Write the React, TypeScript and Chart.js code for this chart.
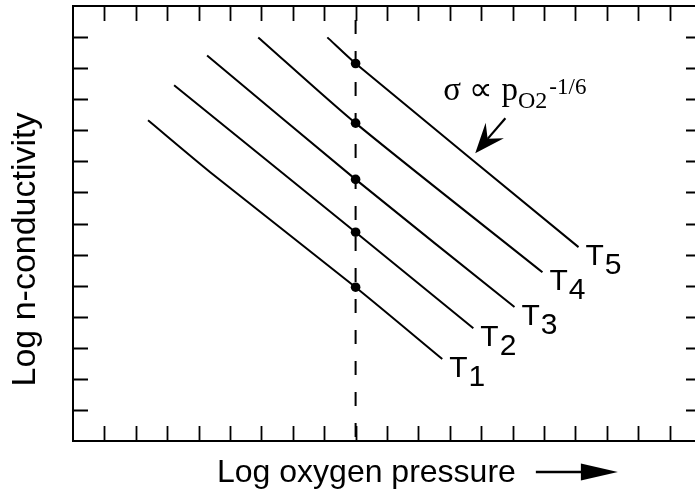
import React, { useEffect, useRef } from "react";
import { Chart, registerables } from "chart.js";

Chart.register(...registerables);

// ---- data (axis units: x = log pO2 tick units, y = log sigma tick units) ----
const xMin = 0;
const xMax = 20;
const yMin = 0;
const yMax = 14;
const referenceX = 9;

const T1 = [
  { x: 2.39, y: 10.32 },
  { x: 4.37, y: 8.65 },
  { x: 9, y: 4.95 },
  { x: 11.76, y: 2.64 },
];
const T2 = [
  { x: 3.22, y: 11.45 },
  { x: 9, y: 6.72 },
  { x: 12.75, y: 3.63 },
];
const T3 = [
  { x: 4.27, y: 12.41 },
  { x: 9, y: 8.42 },
  { x: 14.06, y: 4.31 },
];
const T4 = [
  { x: 5.9, y: 12.99 },
  { x: 9, y: 10.23 },
  { x: 14.95, y: 5.43 },
];
const T5 = [
  { x: 8.1, y: 12.99 },
  { x: 9, y: 12.15 },
  { x: 16.1, y: 6.24 },
];
const curves = [T1, T2, T3, T4, T5];
const curveSubscripts = ["1", "2", "3", "4", "5"];

const referenceLine = [
  { x: referenceX, y: yMin },
  { x: referenceX, y: yMax },
];

const xAxisTitle = "Log oxygen pressure";
const yAxisTitle = "Log n-conductivity";

// annotation "σ ∝ pO2^-1/6" anchor and arrow (data units)
const annotationAnchor = { x: 11.79, y: 10.97 };
const annotationArrowTail = { x: 13.77, y: 10.39 };
const annotationArrowTip = { x: 12.81, y: 9.26 };

const SANS = "'Liberation Sans', Arial, Helvetica, sans-serif";
const SERIF = "'Liberation Serif', 'Times New Roman', serif";

const decorPlugin = {
  id: "decor",
  afterDraw(chart: any) {
    const ctx = chart.ctx as CanvasRenderingContext2D;
    const ca = chart.chartArea;
    const xs = chart.scales.x;
    const ys = chart.scales.y;
    ctx.save();
    ctx.strokeStyle = "#000";
    ctx.fillStyle = "#000";
    ctx.lineCap = "butt";

    // inward tick marks on all four sides
    const tickLen = 15;
    ctx.lineWidth = 1.8;
    ctx.beginPath();
    xs.ticks.forEach((t: any) => {
      if (t.value <= xMin || t.value >= xMax) return;
      const px = Math.round(xs.getPixelForValue(t.value)) + 0.5;
      ctx.moveTo(px, ca.bottom);
      ctx.lineTo(px, ca.bottom - tickLen);
      ctx.moveTo(px, ca.top);
      ctx.lineTo(px, ca.top + tickLen);
    });
    ys.ticks.forEach((t: any) => {
      if (t.value <= yMin || t.value >= yMax) return;
      const py = Math.round(ys.getPixelForValue(t.value)) + 0.5;
      ctx.moveTo(ca.left, py);
      ctx.lineTo(ca.left + tickLen, py);
      ctx.moveTo(ca.right, py);
      ctx.lineTo(ca.right - tickLen, py);
    });
    ctx.stroke();

    // curve labels T1..T5 at the end of each curve
    ctx.textBaseline = "alphabetic";
    ctx.textAlign = "left";
    curves.forEach((c, i) => {
      const last = c[c.length - 1];
      const px = xs.getPixelForValue(last.x) + 7;
      const py = ys.getPixelForValue(last.y) + 18;
      ctx.font = `30px ${SANS}`;
      ctx.fillText("T", px, py);
      const w = ctx.measureText("T").width;
      ctx.fillText(curveSubscripts[i], px + w + 1, py + 9);
    });

    // annotation text
    let ax = xs.getPixelForValue(annotationAnchor.x);
    const ay = ys.getPixelForValue(annotationAnchor.y);
    ctx.font = `33px ${SERIF}`;
    ctx.fillText("σ ∝ p", ax, ay);
    ax += ctx.measureText("σ ∝ p").width;
    ctx.font = `24px ${SERIF}`;
    ctx.fillText("O2", ax, ay + 8);
    ax += ctx.measureText("O2").width + 2;
    ctx.font = `23px ${SERIF}`;
    ctx.fillText("-1/6", ax, ay - 6);

    // annotation arrow
    const tx = xs.getPixelForValue(annotationArrowTail.x);
    const ty = ys.getPixelForValue(annotationArrowTail.y);
    const hx = xs.getPixelForValue(annotationArrowTip.x);
    const hy = ys.getPixelForValue(annotationArrowTip.y);
    const len = Math.hypot(hx - tx, hy - ty);
    const ux = (hx - tx) / len;
    const uy = (hy - ty) / len;
    const nx = -uy;
    const ny = ux;
    const headLen = 30;
    const headHalf = 12;
    const notch = 19;
    ctx.lineWidth = 2.2;
    ctx.beginPath();
    ctx.moveTo(tx, ty);
    ctx.lineTo(hx - ux * notch, hy - uy * notch);
    ctx.stroke();
    ctx.beginPath();
    ctx.moveTo(hx, hy);
    ctx.lineTo(hx - ux * headLen + nx * headHalf, hy - uy * headLen + ny * headHalf);
    ctx.lineTo(hx - ux * notch, hy - uy * notch);
    ctx.lineTo(hx - ux * headLen - nx * headHalf, hy - uy * headLen - ny * headHalf);
    ctx.closePath();
    ctx.fill();

    // x axis title with arrow
    ctx.font = `32px ${SANS}`;
    ctx.textAlign = "left";
    const titleLeft = ca.left + 144;
    const titleBase = ca.bottom + 41;
    ctx.fillText(xAxisTitle, titleLeft, titleBase);
    const tw = ctx.measureText(xAxisTitle).width;
    const arrowY = titleBase - 10;
    const a0 = titleLeft + tw + 20;
    const aTip = a0 + 82;
    ctx.lineWidth = 2.5;
    ctx.beginPath();
    ctx.moveTo(a0, arrowY);
    ctx.lineTo(aTip - 34, arrowY);
    ctx.stroke();
    ctx.beginPath();
    ctx.moveTo(aTip, arrowY);
    ctx.lineTo(aTip - 37, arrowY - 8.5);
    ctx.lineTo(aTip - 37, arrowY + 8.5);
    ctx.closePath();
    ctx.fill();

    // y axis title
    ctx.save();
    ctx.translate(ca.left - 38, (ca.top + ca.bottom) / 2 + 26);
    ctx.rotate(-Math.PI / 2);
    ctx.textAlign = "center";
    ctx.font = `34px ${SANS}`;
    ctx.fillText(yAxisTitle, 0, 0);
    ctx.restore();

    ctx.restore();
  },
};

const hiddenAxis = (position: string, min: number, max: number, axis: string) => ({
  type: "linear" as const,
  position,
  axis,
  min,
  max,
  ticks: { display: false, stepSize: 1, autoSkip: false },
  grid: { display: true, drawOnChartArea: false, drawTicks: false },
  border: { display: true, color: "#000", width: 2 },
  title: { display: false },
});

export default function App() {
  const canvasRef = useRef<HTMLCanvasElement | null>(null);

  useEffect(() => {
    if (!canvasRef.current) return;
    const curveSets = curves.map((c) => ({
      data: c,
      showLine: true,
      borderColor: "#000",
      backgroundColor: "#000",
      borderWidth: 2,
      tension: 0.25,
      pointRadius: (ctx: any) => (ctx.raw && ctx.raw.x === referenceX ? 4.8 : 0),
      pointHoverRadius: 0,
      pointBorderWidth: 0,
    }));
    const chart = new Chart(canvasRef.current, {
      type: "scatter",
      data: {
        datasets: [
          {
            data: referenceLine,
            showLine: true,
            borderColor: "#000",
            borderWidth: 2,
            borderDash: [14, 17],
            borderDashOffset: 27,
            pointRadius: 0,
          } as any,
          ...curveSets,
        ],
      },
      options: {
        animation: false,
        responsive: true,
        maintainAspectRatio: false,
        layout: { padding: { left: 73, top: 6, right: 11, bottom: 50 } },
        plugins: { legend: { display: false }, tooltip: { enabled: false } },
        events: [],
        scales: {
          x: hiddenAxis("bottom", xMin, xMax, "x"),
          x2: hiddenAxis("top", xMin, xMax, "x"),
          y: hiddenAxis("left", yMin, yMax, "y"),
          y2: hiddenAxis("right", yMin, yMax, "y"),
        } as any,
      },
      plugins: [decorPlugin],
    });
    return () => chart.destroy();
  }, []);

  return (
    <div
      style={{
        position: "fixed",
        left: 0,
        top: 0,
        width: 695,
        height: 491,
        overflow: "hidden",
        background: "#fff",
      }}
    >
      <div style={{ position: "relative", width: 712, height: 491 }}>
        <canvas ref={canvasRef} />
      </div>
    </div>
  );
}
